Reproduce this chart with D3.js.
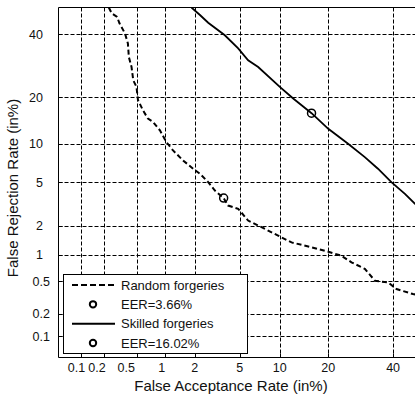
<!DOCTYPE html>
<html>
<head>
<meta charset="utf-8">
<script src="https://cdn.jsdelivr.net/npm/d3@7"></script>
<style>
  body { margin: 0; background: #fff; }
  text { font-family: "Liberation Sans", Arial, sans-serif; fill: #111; }
</style>
</head>
<body>
<script>
var width = 415
var height = 397

// tick values (percent)
var ticks = [0.1, 0.2, 0.5, 1, 2, 5, 10, 20, 40]

// random forgeries DET curve (FAR %, FRR %)
var randomFAR = [0.23, 0.25, 0.29, 0.31, 0.36, 0.39, 0.40, 0.43, 0.45, 0.49, 0.51, 0.58, 0.66, 0.75, 0.89, 1.04, 1.22, 1.54, 1.93, 2.24, 2.67, 3.07, 3.66, 4.0, 4.85, 5.83, 6.97, 9.73, 12.0, 16.0, 20.0, 23.5, 26.4, 30.5, 33.8, 38.3, 41.2, 47.1, 50]
var randomFRR = [50, 47.8, 46.5, 44.1, 40.4, 36.8, 32.1, 28.8, 24.7, 22.8, 19.2, 16.7, 14.8, 14.1, 12.4, 10.3, 8.95, 7.52, 6.48, 5.90, 5.03, 4.26, 3.66, 3.13, 2.92, 2.26, 2.02, 1.60, 1.36, 1.21, 1.085, 0.98, 0.83, 0.70, 0.51, 0.487, 0.406, 0.353, 0.34]

// skilled forgeries DET curve
var skilledFAR = [1.86, 2.24, 2.67, 3.75, 4.85, 5.83, 6.97, 10.0, 12.3, 16.02, 20.0, 25.4, 30.5, 34.8, 39.4, 44.2, 47.75, 50]
var skilledFRR = [50, 47.2, 44.3, 39.7, 35.0, 31.0, 28.8, 22.8, 19.6, 16.02, 12.7, 10.0, 7.97, 6.48, 5.03, 3.99, 3.27, 2.87]

var eerRandom = 3.66
var eerSkilled = 16.02

var legendLabels = ["Random forgeries", "EER=3.66%", "Skilled forgeries", "EER=16.02%"]

// inverse normal cdf (Acklam)
function probit(p) {
  var a = [-3.969683028665376e+01, 2.209460984245205e+02, -2.759285104469687e+02, 1.383577518672690e+02, -3.066479806614716e+01, 2.506628277459239e+00]
  var b = [-5.447609879822406e+01, 1.615858368580409e+02, -1.556989798598866e+02, 6.680131188771972e+01, -1.328068155288572e+01]
  var c = [-7.784894002430293e-03, -3.223964580411365e-01, -2.400758277161838e+00, -2.549671350395125e+00, 4.374664141464968e+00, 2.938163982698783e+00]
  var d = [7.784695709041462e-03, 3.224671290700398e-01, 2.445134137142996e+00, 3.754408661907416e+00]
  var plow = 0.02425, q, r
  if (p < plow) {
    q = Math.sqrt(-2 * Math.log(p))
    return (((((c[0]*q+c[1])*q+c[2])*q+c[3])*q+c[4])*q+c[5]) / ((((d[0]*q+d[1])*q+d[2])*q+d[3])*q+1)
  }
  if (p <= 1 - plow) {
    q = p - 0.5; r = q * q
    return (((((a[0]*r+a[1])*r+a[2])*r+a[3])*r+a[4])*r+a[5])*q / (((((b[0]*r+b[1])*r+b[2])*r+b[3])*r+b[4])*r+1)
  }
  q = Math.sqrt(-2 * Math.log(1 - p))
  return -(((((c[0]*q+c[1])*q+c[2])*q+c[3])*q+c[4])*q+c[5]) / ((((d[0]*q+d[1])*q+d[2])*q+d[3])*q+1)
}

const pL = 58.5, pT = 7.5, pR = 421, pB = 357.5

var xs = d3.scaleLinear().domain([probit(0.0005), 0]).range([pL, pR])
var ys = d3.scaleLinear().domain([probit(0.0005), 0]).range([pB, pT])
var x = v => xs(probit(v / 100))
var y = v => ys(probit(v / 100))

const svg = d3.select("body").append("svg")
  .attr("width", width).attr("height", height)

svg.append("defs").append("clipPath").attr("id", "clip")
  .append("rect").attr("x", pL).attr("y", pT).attr("width", pR - pL).attr("height", pB - pT)

// grid
const grid = svg.append("g").attr("stroke", "#000").attr("stroke-width", 1).attr("stroke-dasharray", "4,2")
grid.selectAll(".gx").data(ticks).join("line")
  .attr("x1", d => Math.round(x(d)) + 0.5).attr("x2", d => Math.round(x(d)) + 0.5)
  .attr("y1", pT).attr("y2", pB)
grid.selectAll(".gy").data(ticks).join("line")
  .attr("y1", d => Math.round(y(d)) + 0.5).attr("y2", d => Math.round(y(d)) + 0.5)
  .attr("x1", pL).attr("x2", pR)

// inward ticks
const tk = svg.append("g").attr("stroke", "#000")
tk.selectAll(".tx").data(ticks).join("line")
  .attr("x1", d => Math.round(x(d)) + 0.5).attr("x2", d => Math.round(x(d)) + 0.5)
  .attr("y1", pB).attr("y2", pB - 4)
tk.selectAll(".ty").data(ticks).join("line")
  .attr("y1", d => Math.round(y(d)) + 0.5).attr("y2", d => Math.round(y(d)) + 0.5)
  .attr("x1", pL).attr("x2", pL + 4)

// curves
const plot = svg.append("g").attr("clip-path", "url(#clip)")
const line = d3.line().x(d => x(d[0])).y(d => y(d[1]))

plot.append("path")
  .datum(randomFAR.map((v, i) => [v, randomFRR[i]]))
  .attr("d", line).attr("fill", "none").attr("stroke", "#000")
  .attr("stroke-width", 2).attr("stroke-dasharray", "5,3")

plot.append("path")
  .datum(skilledFAR.map((v, i) => [v, skilledFRR[i]]))
  .attr("d", line).attr("fill", "none").attr("stroke", "#000")
  .attr("stroke-width", 1.8)

plot.selectAll(".eer").data([eerRandom, eerSkilled]).join("circle")
  .attr("cx", d => x(d)).attr("cy", d => y(d)).attr("r", 4)
  .attr("fill", "none").attr("stroke", "#000").attr("stroke-width", 1.5)

// axes frame
svg.append("path")
  .attr("d", `M${pR},${pT}H${pL}V${pB}H${pR}`)
  .attr("fill", "none").attr("stroke", "#000").attr("stroke-width", 1)

// tick labels (the small ones sit a bit left of their ticks, as in the original)
var labelNudge = v => v === 0.1 ? -4 : v === 0.2 ? -7 : v === 0.5 ? -11 : v < 2 ? -3 : 0
svg.append("g").selectAll("text").data(ticks).join("text")
  .attr("x", d => x(d) + labelNudge(d)).attr("y", 372)
  .attr("text-anchor", "middle").attr("font-size", 12.5)
  .text(d => d)

svg.append("g").selectAll("text").data(ticks).join("text")
  .attr("x", d => d < 1 ? 50 : 43).attr("y", d => y(d)).attr("dy", "0.36em")
  .attr("text-anchor", "end").attr("font-size", 12.5)
  .text(d => d)

// axis titles
svg.append("text").attr("x", 231).attr("y", 391)
  .attr("text-anchor", "middle").attr("font-size", 15)
  .text("False Acceptance Rate (in%)")

svg.append("text").attr("transform", "translate(18,188) rotate(-90)")
  .attr("text-anchor", "middle").attr("font-size", 15)
  .text("False Rejection Rate (in%)")

// legend
const lg = svg.append("g")
lg.append("rect").attr("x", 63.5).attr("y", 274.5).attr("width", 184).attr("height", 79)
  .attr("fill", "#fff").attr("stroke", "#000")

var rowY = d3.scalePoint().domain(d3.range(4)).range([285, 343])

lg.selectAll(".lt").data(legendLabels).join("text")
  .attr("x", 121).attr("y", (d, i) => rowY(i)).attr("dy", "0.36em")
  .attr("font-size", 13).text(d => d)

lg.append("line").attr("x1", 72).attr("x2", 115).attr("y1", rowY(0)).attr("y2", rowY(0))
  .attr("stroke", "#000").attr("stroke-width", 2).attr("stroke-dasharray", "6,3")
lg.append("line").attr("x1", 72).attr("x2", 115).attr("y1", rowY(2)).attr("y2", rowY(2))
  .attr("stroke", "#000").attr("stroke-width", 2)
lg.selectAll(".lc").data([1, 3]).join("circle")
  .attr("cx", 93).attr("cy", d => rowY(d)).attr("r", 3.2)
  .attr("fill", "#fff").attr("stroke", "#000").attr("stroke-width", 2)
</script>
</body>
</html>
